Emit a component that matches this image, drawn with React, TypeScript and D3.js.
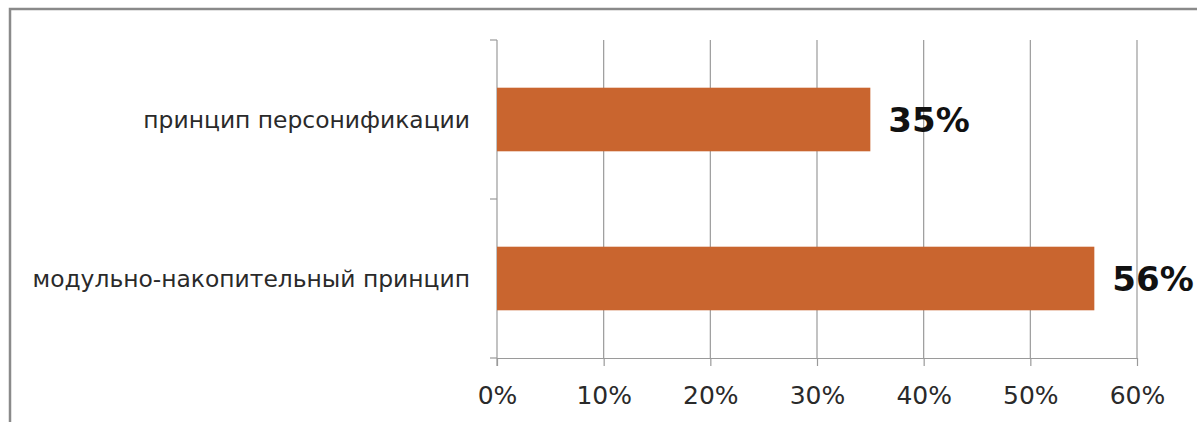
import React, { useRef, useEffect } from 'react';
import * as d3 from 'd3';

const categories = ['принцип персонификации', 'модульно-накопительный принцип'];
const values = [35, 56];
const tickValues = [0, 10, 20, 30, 40, 50, 60];

const W = 1197;
const H = 422;

const App: React.FC = () => {
  const svgRef = useRef<SVGSVGElement | null>(null);

  useEffect(() => {
    if (!svgRef.current) return;
    const svg = d3.select(svgRef.current);
    svg.selectAll('*').remove();

    const left = 497;
    const right = 1137;
    const top = 40;
    const bottom = 358;

    // frame
    svg.append('rect')
       .attr('x', 10)
       .attr('y', 9)
       .attr('width', W + 20)
       .attr('height', H + 20)
       .attr('fill', '#fff')
       .attr('stroke', '#8a8a8a')
       .attr('stroke-width', 2.5);

    const xScale = d3.scaleLinear().domain([0, 60]).range([left, right]);
    const yScale = d3.scaleBand()
                     .domain(categories)
                     .range([top, bottom])
                     .paddingInner(0.6)
                     .paddingOuter(0.3);

    const g = svg.append('g');

    // vertical gridlines
    g.selectAll('.grid')
     .data(tickValues.slice(1))
     .enter()
     .append('line')
     .attr('x1', d => xScale(d))
     .attr('x2', d => xScale(d))
     .attr('y1', top)
     .attr('y2', bottom)
     .attr('stroke', '#9a9a9a')
     .attr('stroke-width', 1.2);

    // x axis
    const xAxis = d3.axisBottom(xScale)
                    .tickValues(tickValues)
                    .tickSize(8)
                    .tickFormat(d => `${d}%`);
    const xAxisG = g.append('g')
                    .attr('transform', `translate(0, ${bottom})`)
                    .call(xAxis);
    xAxisG.select('.domain').attr('stroke', '#9a9a9a').attr('stroke-width', 1.2)
          .attr('d', `M${left},0.5H${right}`);
    xAxisG.selectAll('.tick line').attr('stroke', '#9a9a9a').attr('stroke-width', 1.2);
    xAxisG.selectAll('.tick text')
          .attr('font-family', '"DejaVu Sans", sans-serif')
          .attr('font-size', '25px')
          .attr('fill', '#2a2a2a')
          .attr('y', 23)
          .attr('dy', '0.9em');

    // y axis
    const step = yScale.step();
    const catTicks = [top, top + step, bottom];
    g.append('line')
     .attr('x1', left).attr('x2', left)
     .attr('y1', top).attr('y2', bottom + 8)
     .attr('stroke', '#9a9a9a').attr('stroke-width', 1.2);
    g.selectAll('.ytick')
     .data(catTicks)
     .enter()
     .append('line')
     .attr('x1', left - 7).attr('x2', left)
     .attr('y1', d => d).attr('y2', d => d)
     .attr('stroke', '#9a9a9a').attr('stroke-width', 1.2);

    g.selectAll('.ylabel')
     .data(categories)
     .enter()
     .append('text')
     .attr('x', left - 27)
     .attr('y', d => yScale(d)! + yScale.bandwidth() / 2)
     .attr('dy', '0.35em')
     .attr('text-anchor', 'end')
     .attr('font-family', '"DejaVu Sans", sans-serif')
     .attr('font-size', '23.4px')
     .attr('fill', '#2a2a2a')
     .text(d => d);

    // bars
    g.selectAll('.bar')
     .data(values)
     .enter()
     .append('rect')
     .attr('x', xScale(0))
     .attr('y', (d, i) => yScale(categories[i])!)
     .attr('width', d => xScale(d) - xScale(0))
     .attr('height', yScale.bandwidth())
     .attr('fill', '#c9652f');

    // value labels
    g.selectAll('.vlabel')
     .data(values)
     .enter()
     .append('text')
     .attr('x', d => xScale(d) + 18)
     .attr('y', (d, i) => yScale(categories[i])! + yScale.bandwidth() / 2)
     .attr('dy', '0.36em')
     .attr('font-family', '"DejaVu Sans", sans-serif')
     .attr('font-weight', 'bold')
     .attr('font-size', '34px')
     .attr('fill', '#111')
     .text(d => `${d}%`);
  }, []);

  return (
    <div style={{ position: 'absolute', left: 0, top: 0, width: W, height: H, background: '#fff' }}>
      <svg ref={svgRef} width={W} height={H} style={{ display: 'block' }}></svg>
    </div>
  );
};

export default App;
